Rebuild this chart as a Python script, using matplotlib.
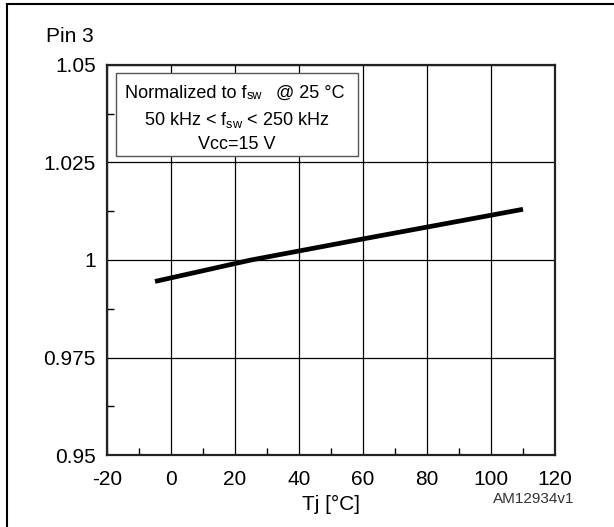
import matplotlib
matplotlib.use("Agg")
import matplotlib.pyplot as plt
from matplotlib.lines import Line2D
from matplotlib.patches import Rectangle
from matplotlib.ticker import MultipleLocator

plt.rcParams['font.family'] = ['Liberation Sans', 'DejaVu Sans']
plt.rcParams['mathtext.fontset'] = 'custom'
plt.rcParams['mathtext.rm'] = 'Liberation Sans'
plt.rcParams['axes.unicode_minus'] = False

# curve
tj = [-5, 25, 60, 110]
fsw_norm = [0.9945, 1.0, 1.0054, 1.013]

x_ticks = [-20, 0, 20, 40, 60, 80, 100, 120]
y_ticks = [0.95, 0.975, 1.0, 1.025, 1.05]
y_labels = ["0.95", "0.975", "1", "1.025", "1.05"]

fig = plt.figure(figsize=(6.14, 5.27), dpi=100)
ax = fig.add_axes([0.1743, 0.1366, 0.7296, 0.7401])

ax.plot(tj, fsw_norm, color='black', lw=3.4, solid_capstyle='butt', zorder=3)

ax.set_xlim(-20, 120)
ax.set_ylim(0.95, 1.05)
ax.set_xticks(x_ticks)
ax.set_yticks(y_ticks)
ax.set_yticklabels(y_labels)
ax.xaxis.set_minor_locator(MultipleLocator(10))
ax.yaxis.set_minor_locator(MultipleLocator(0.0125))
ax.grid(True, which='major', color='black', lw=0.9)
ax.tick_params(which='major', length=0, labelsize=15)
ax.tick_params(axis='x', which='major', pad=11)
ax.tick_params(axis='y', which='major', pad=8)
ax.tick_params(which='minor', direction='in', length=5, width=1.0,
               top=False, right=False)
for s in ax.spines.values():
    s.set_linewidth(1.6)
    s.set_color('#222222')

ax.set_xlabel("Tj [°C]", fontsize=15, labelpad=4)

# note box
ax.add_patch(Rectangle((0.02, 0.767), 0.54, 0.212, transform=ax.transAxes,
                       facecolor='white', edgecolor='#555555', lw=1.0, zorder=4))
t1 = ax.text(0.040, 0.928, "Normalized to f", transform=ax.transAxes,
             fontsize=13, ha='left', va='center', zorder=5)
t2 = ax.annotate("sw", xy=(1, 0), xycoords=t1, fontsize=9,
                 ha='left', va='bottom', zorder=5)
ax.annotate("@ 25 °C", xy=(1, 0), xycoords=t2, xytext=(10, 0),
            textcoords='offset points', fontsize=13,
            ha='left', va='bottom', zorder=5)
ax.text(0.29, 0.859, r"50 kHz < f$_{\mathregular{sw}}$ < 250 kHz",
        transform=ax.transAxes, fontsize=13, ha='center', va='center', zorder=5)
ax.text(0.29, 0.795, "Vcc=15 V", transform=ax.transAxes,
        fontsize=13, ha='center', va='center', zorder=5)

fig.text(46 / 614, 1 - 36 / 527, "Pin 3", fontsize=15, ha='left', va='center')
fig.text(574 / 614, 1 - 499 / 527, "AM12934v1", fontsize=11,
         ha='right', va='center', color='#333333')

# frame around the figure (top and left edges are what shows)
fig.add_artist(Line2D([7 / 614, 7 / 614], [0, 1 - 4 / 527], color='black', lw=1.5))
fig.add_artist(Line2D([7 / 614, 1], [1 - 4 / 527, 1 - 4 / 527], color='black', lw=1.5))

fig.savefig("out.png", dpi=100)
